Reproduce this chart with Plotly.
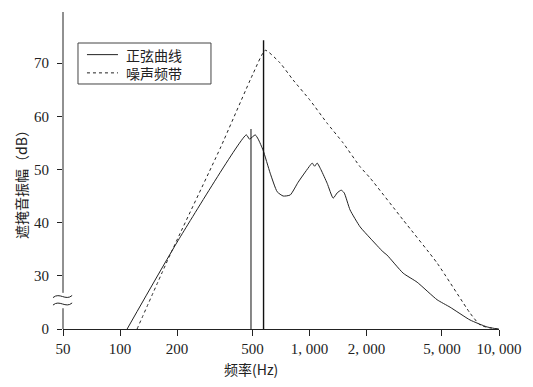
import plotly.graph_objects as go

# ---- data (frequency in Hz, level in dB) ----
sine_freq = [109, 203, 464, 482, 517, 536, 569, 620, 675, 726, 791, 871, 949, 1009, 1033,
             1064, 1097, 1151, 1239, 1333, 1400, 1469, 1524, 1636, 1849, 2088, 2445, 2565,
             3120, 3697, 4713, 5520, 7031, 8630, 9860, 10000]
sine_db = [0, 36.7, 56.5, 55.7, 56.5, 55.7, 53.6, 49.3, 45.8, 45.0, 45.2, 47.6, 49.5, 50.8, 51.2,
           50.6, 51.2, 49.9, 47.4, 44.6, 45.6, 46.1, 45.6, 42.4, 39.2, 37.1, 34.5, 33.9,
           30.5, 26.4, 16.5, 12.3, 5.1, 1.2, 0, 0]

noise_freq = [123, 184, 338, 505, 584, 700, 820, 1007, 1238, 1503, 1849, 2088, 3120, 4713,
              7031, 7943, 8954, 10000]
noise_db = [0, 34.0, 54.0, 68.1, 72.4, 70.0, 66.8, 63.0, 58.7, 55.0, 50.5, 48.4, 40.5, 32.4,
            9.0, 2.25, 0.6, 0]

marker_freq = [491, 572]        # the two vertical lines
marker_top_db = [57.6, 74.3]

x_tickvals = [50, 100, 200, 500, 1000, 2000, 5000, 10000]
x_ticktext = ["50", "100", "200", "500", "1, 000", "2, 000", "5, 000", "10, 000"]
y_tick_db = [0, 30, 40, 50, 60, 70]

legend_names = ["正弦曲线", "噪声频带"]
x_title = "频率(Hz)"
y_title = "遮掩音振幅（dB）"


# axis break: 0-30 dB compressed into the space of 10 dB
def disp(v):
    return v if v >= 30 else 20 + v / 3.0


def disp_list(vals):
    return [disp(v) for v in vals]


INK = "#222222"
NUM_FONT = "Liberation Serif"
CJK_FONT = "Noto Sans CJK SC"
DASH = "3px,3px"

fig = go.Figure()

fig.add_trace(go.Scatter(
    x=sine_freq, y=disp_list(sine_db), mode="lines", name=legend_names[0],
    line=dict(color=INK, width=1, shape="spline", smoothing=0.5)))
fig.add_trace(go.Scatter(
    x=noise_freq, y=disp_list(noise_db), mode="lines", name=legend_names[1],
    line=dict(color=INK, width=1, dash=DASH, shape="spline", smoothing=0.5)))

for f, top, w in zip(marker_freq, marker_top_db, [1, 1.4]):
    fig.add_trace(go.Scatter(
        x=[f, f], y=[disp(0), disp(top)], mode="lines", showlegend=False,
        line=dict(color="#111111", width=w), hoverinfo="skip"))

# y axis line drawn in two pieces with a break
gap_lo, gap_hi, y_top = 23.9, 26.8, 79.6
shapes = [
    dict(type="line", xref="paper", yref="y", x0=0, x1=0, y0=20, y1=gap_lo,
         line=dict(color=INK, width=1)),
    dict(type="line", xref="paper", yref="y", x0=0, x1=0, y0=gap_hi, y1=y_top,
         line=dict(color=INK, width=1)),
]
for yc in [24.7, 26.1]:
    x0, x1 = -0.023, 0.021
    w = x1 - x0
    path = (f"M {x0},{yc - 0.2} C {x0 + 0.35 * w},{yc + 0.9} "
            f"{x0 + 0.65 * w},{yc - 0.9} {x1},{yc + 0.2}")
    shapes.append(dict(type="path", xref="paper", yref="y", path=path,
                       line=dict(color=INK, width=1)))

# legend box (drawn by hand to match the boxed key of the original)
shapes.append(dict(type="rect", xref="paper", yref="paper",
                   x0=0.0344, x1=0.3394, y0=0.7729, y1=0.9022,
                   fillcolor="white", line=dict(color="#444444", width=1)))
legend_rows_y = [0.8655, 0.808]
legend_dash = ["solid", DASH]
for ry, dsh in zip(legend_rows_y, legend_dash):
    shapes.append(dict(type="line", xref="paper", yref="paper",
                       x0=0.055, x1=0.1261, y0=ry, y1=ry,
                       line=dict(color=INK, width=1, dash=dsh)))

annotations = [
    dict(text="<br>".join(legend_names), xref="paper", yref="paper",
         x=0.1422, y=sum(legend_rows_y) / 2, xanchor="left", yanchor="middle",
         align="left", showarrow=False, borderpad=0,
         font=dict(family=CJK_FONT, size=14, color=INK)),
    dict(text=x_title, xref="paper", yref="paper", x=0.431, y=-0.126,
         xanchor="center", yanchor="middle", showarrow=False,
         font=dict(family=CJK_FONT, size=14, color=INK)),
    dict(text=y_title, xref="paper", yref="paper", x=-0.0963, y=0.467,
         xanchor="center", yanchor="middle", showarrow=False, textangle=-90,
         font=dict(family=CJK_FONT, size=14, color=INK)),
]

fig.update_layout(
    width=533, height=387,
    margin=dict(l=63, r=34, t=12, b=58),
    paper_bgcolor="white", plot_bgcolor="white",
    showlegend=False,
    shapes=shapes,
    annotations=annotations,
)

fig.update_xaxes(
    type="log", range=[1.69897, 4.0],
    tickvals=x_tickvals, ticktext=x_ticktext,
    ticks="outside", ticklen=6, tickcolor=INK, tickwidth=1,
    showline=True, linecolor=INK, linewidth=1,
    showgrid=False, zeroline=False,
    tickfont=dict(family=NUM_FONT, size=15, color=INK),
)
fig.update_yaxes(
    range=[20, y_top],
    tickvals=disp_list(y_tick_db), ticktext=[str(v) for v in y_tick_db],
    ticks="outside", ticklen=5, tickcolor=INK, tickwidth=1,
    showline=False, showgrid=False, zeroline=False,
    tickfont=dict(family=NUM_FONT, size=15, color=INK),
    ticklabelstandoff=5,
)

fig.write_html("out.html", config={"displayModeBar": False},
               post_script="document.body.style.margin='0';")
